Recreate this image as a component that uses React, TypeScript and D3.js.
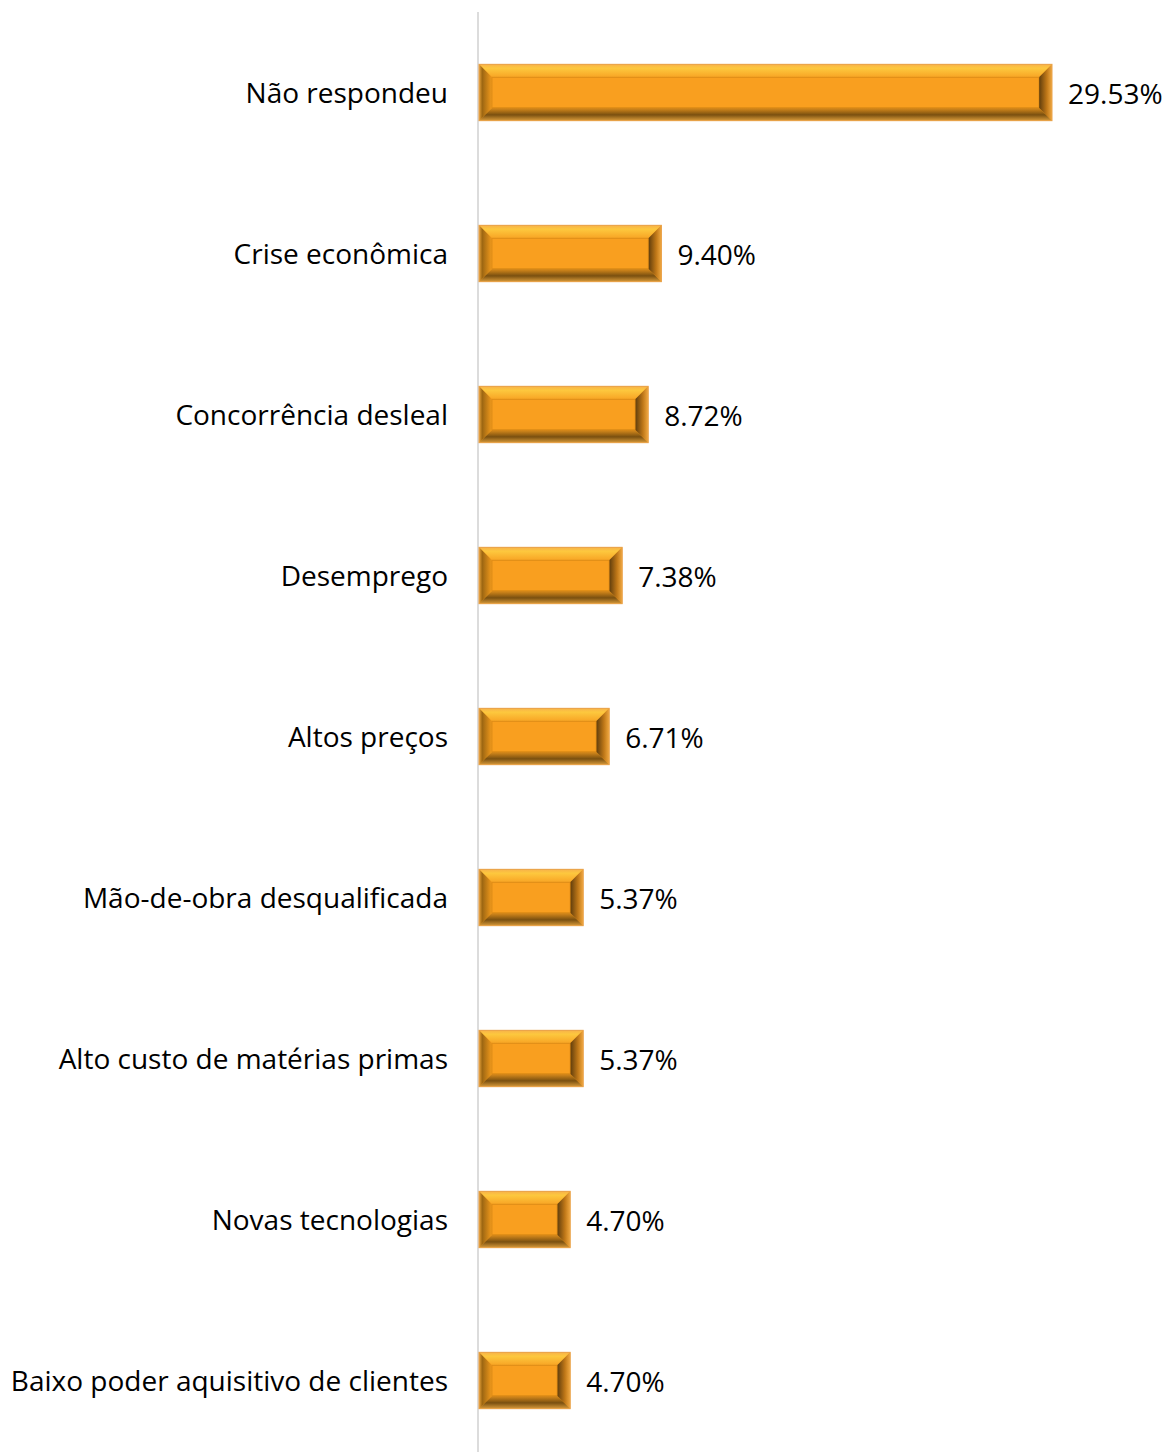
import React from "react";
import * as d3 from "d3";

const categories = [
  "Não respondeu",
  "Crise econômica",
  "Concorrência desleal",
  "Desemprego",
  "Altos preços",
  "Mão-de-obra desqualificada",
  "Alto custo de matérias primas",
  "Novas tecnologias",
  "Baixo poder aquisitivo de clientes",
];
const values = [29.53, 9.4, 8.72, 7.38, 6.71, 5.37, 5.37, 4.7, 4.7];

const W = 1167;
const H = 1452;
const AXIS_X = 478;
const FONT = "'Open Sans', sans-serif";

const App: React.FC = () => {
  const x = d3.scaleLinear().domain([0, 29.53]).range([AXIS_X + 1, 1052]);
  const y = d3.scaleBand<string>().domain(categories).range([12, 1461]).paddingInner(0.65).paddingOuter(0.325);
  const bh = y.bandwidth();
  const bv = 13; // bevel size

  return (
    <svg width={W} height={H} style={{ position: "absolute", left: 0, top: 0, background: "#fff" }}>
      <defs>
        <linearGradient id="gTop" x1="0" y1="0" x2="0" y2="1">
          <stop offset="0" stopColor="#f7b24a" />
          <stop offset="0.3" stopColor="#fdc83e" />
          <stop offset="1" stopColor="#f8a424" />
        </linearGradient>
        <linearGradient id="gBottom" x1="0" y1="0" x2="0" y2="1">
          <stop offset="0" stopColor="#e08f1c" />
          <stop offset="0.55" stopColor="#7a5010" />
          <stop offset="1" stopColor="#d89a3a" />
        </linearGradient>
        <linearGradient id="gLeft" x1="0" y1="0" x2="1" y2="0">
          <stop offset="0" stopColor="#e7a23a" />
          <stop offset="0.25" stopColor="#9c6612" />
          <stop offset="1" stopColor="#f29a1c" />
        </linearGradient>
        <linearGradient id="gRight" x1="0" y1="0" x2="1" y2="0">
          <stop offset="0" stopColor="#5e3c0c" />
          <stop offset="0.6" stopColor="#c07818" />
          <stop offset="1" stopColor="#f0a840" />
        </linearGradient>
      </defs>

      <line x1={AXIS_X} x2={AXIS_X} y1={12} y2={H} stroke="#d0d0d0" strokeWidth={1.5} />

      {categories.map((c, i) => {
        const x0 = x(0);
        const x1 = x(values[i]);
        const y0 = y(c)!;
        const y1 = y0 + bh;
        const cy = y0 + bh / 2;
        return (
          <g key={c}>
            <rect x={x0} y={y0} width={x1 - x0} height={bh} fill="#f99f1f" />
            <polygon points={`${x0},${y0} ${x1},${y0} ${x1 - bv},${y0 + bv} ${x0 + bv},${y0 + bv}`} fill="url(#gTop)" />
            <polygon points={`${x0},${y1} ${x1},${y1} ${x1 - bv},${y1 - bv} ${x0 + bv},${y1 - bv}`} fill="url(#gBottom)" />
            <polygon points={`${x0},${y0} ${x0 + bv},${y0 + bv} ${x0 + bv},${y1 - bv} ${x0},${y1}`} fill="url(#gLeft)" />
            <polygon points={`${x1},${y0} ${x1 - bv},${y0 + bv} ${x1 - bv},${y1 - bv} ${x1},${y1}`} fill="url(#gRight)" />
            <rect x={x0 + bv} y={y0 + bv} width={x1 - x0 - 2 * bv} height={bh - 2 * bv} fill="#f99f1f" stroke="#c87c10" strokeOpacity={0.5} strokeWidth={1} />
            <rect x={x0} y={y0} width={x1 - x0} height={bh} fill="none" stroke="#e9a24a" strokeWidth={1} />
            <text x={AXIS_X - 30} y={cy - 1} textAnchor="end" dominantBaseline="central" fontFamily={FONT} fontSize={28} fill="#000">
              {c}
            </text>
            <text x={x1 + 16} y={cy} dominantBaseline="central" fontFamily={FONT} fontSize={28} fill="#000">
              {values[i].toFixed(2)}%
            </text>
          </g>
        );
      })}
    </svg>
  );
};

export default App;
